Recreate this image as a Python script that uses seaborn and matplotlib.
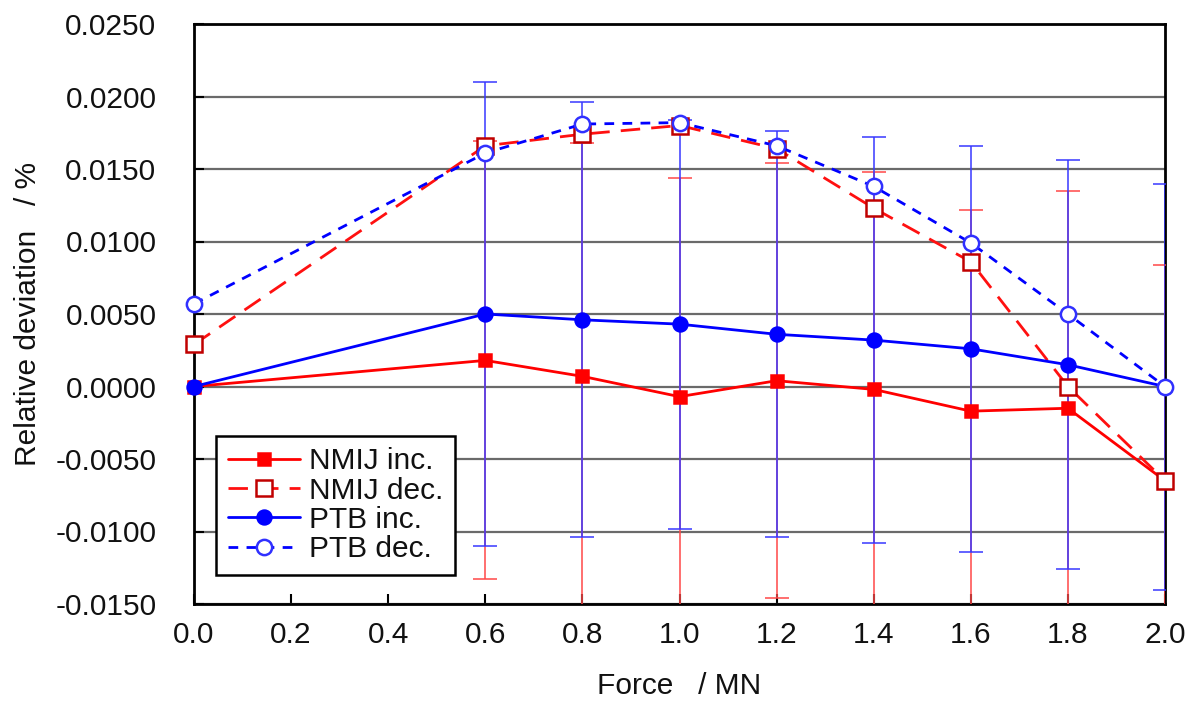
import matplotlib
matplotlib.use("Agg")
import matplotlib.pyplot as plt
import seaborn as sns
import pandas as pd
import numpy as np

force = [0.0, 0.6, 0.8, 1.0, 1.2, 1.4, 1.6, 1.8, 2.0]
nmij_inc = [0.0, 0.0018, 0.0007, -0.0007, 0.0004, -0.0002, -0.0017, -0.0015, -0.0065]
nmij_dec = [0.0029, 0.0166, 0.0174, 0.0180, 0.0164, 0.0123, 0.0086, 0.0000, -0.0065]
ptb_inc = [0.0, 0.0050, 0.0046, 0.0043, 0.0036, 0.0032, 0.0026, 0.0015, 0.0]
ptb_dec = [0.0057, 0.0161, 0.0181, 0.0182, 0.0166, 0.0138, 0.0099, 0.0050, 0.0]

err_x = [0.6, 0.8, 1.0, 1.2, 1.4, 1.6, 1.8, 2.0]
nmij_err = [0.0151, 0.0161, 0.0151, 0.0150, 0.0150, 0.0139, 0.0150, 0.0149]
ptb_err = [0.0160, 0.0150, 0.0141, 0.0140, 0.0140, 0.0140, 0.0141, 0.0140]

series_names = ["NMIJ inc.", "NMIJ dec.", "PTB inc.", "PTB dec."]
x_ticks = [0.0, 0.2, 0.4, 0.6, 0.8, 1.0, 1.2, 1.4, 1.6, 1.8, 2.0]
y_ticks = [-0.015, -0.010, -0.005, 0.0, 0.005, 0.010, 0.015, 0.020, 0.025]

sns.set_theme(style="white")
plt.rcParams['font.family'] = ['Liberation Sans', 'DejaVu Sans']
plt.rcParams['axes.unicode_minus'] = False

fig = plt.figure(figsize=(11.93, 7.01), dpi=100)
ax = fig.add_axes([194/1193, 1-604/701, (1165-194)/1193, (604-24)/701])

df = pd.DataFrame({
    "force": force * 4,
    "dev": nmij_inc + nmij_dec + ptb_inc + ptb_dec,
    "series": sum([[n] * len(force) for n in series_names], []),
})

# error bars (red first, then blue)
ni = dict(zip(force, nmij_inc))
pi = dict(zip(force, ptb_inc))
ax.errorbar(err_x, [ni[x] for x in err_x], yerr=nmij_err, fmt='none',
            ecolor='#FF4848', elinewidth=1.1, capsize=8.5, capthick=1.1, zorder=3)
ax.errorbar(err_x, [pi[x] for x in err_x], yerr=ptb_err, fmt='none',
            ecolor='#3838FF', elinewidth=1.1, capsize=8.5, capthick=1.1, zorder=3.5)

styles = {
    "NMIJ inc.": dict(color='#FF0000', marker='s', mfc='#FF0000', mec='#FF0000', ms=9, dashes=None),
    "NMIJ dec.": dict(color='#FF1010', marker='s', mfc='white', mec='#C00000', ms=12, dashes=(7, 4)),
    "PTB inc.": dict(color='#0000FF', marker='o', mfc='#0000FF', mec='#0000FF', ms=10, dashes=None),
    "PTB dec.": dict(color='#0000FF', marker='o', mfc='white', mec='#3030FF', ms=11, dashes=(3.5, 3)),
}
zorders = {"NMIJ inc.": 5, "NMIJ dec.": 6, "PTB inc.": 7, "PTB dec.": 8}
handles = []
for name in series_names:
    st = styles[name]
    sub = df[df["series"] == name]
    sns.lineplot(data=sub, x="force", y="dev", ax=ax, color=st['color'],
                 linewidth=2.0, marker=st['marker'], markersize=st['ms'],
                 markerfacecolor=st['mfc'], markeredgecolor=st['mec'],
                 markeredgewidth=1.8, legend=False, errorbar=None, sort=False)
    line = ax.lines[-1]
    if st['dashes'] is not None:
        line.set_dashes(st['dashes'])
    line.set_zorder(zorders[name])
    line.set_clip_on(False)
    line.set_label(name)
    handles.append(line)

ax.set_xlim(0, 2.0)
ax.set_ylim(-0.015, 0.025)
ax.set_xticks(x_ticks)
ax.set_xticklabels([f"{v:.1f}" for v in x_ticks])
ax.set_yticks(y_ticks)
ax.set_yticklabels([f"{v:.4f}" for v in y_ticks])
ax.yaxis.grid(True, color='#6a6a6a', linewidth=1.6)
ax.xaxis.grid(False)
ax.set_axisbelow(True)
for s in ax.spines.values():
    s.set_color('black')
    s.set_linewidth(2.0)
    s.set_visible(True)
ax.tick_params(axis='both', direction='in', length=7, width=1.5, color='black',
               labelsize=21.5, labelcolor='#111111')
ax.tick_params(axis='y', left=True, right=False, pad=27)
ax.tick_params(axis='x', bottom=True, top=False, pad=12)

ax.set_xlabel("Force   / MN", fontsize=21.5, color='#111111')
ax.set_ylabel("Relative deviation   / %", fontsize=21.5, color='#111111')
ax.xaxis.set_label_coords(0.5, (604 - 686) / 580)
ax.xaxis.label.set_va('center')
ax.yaxis.set_label_coords((28 - 194) / 971, 0.5)
ax.yaxis.label.set_va('center')

leg = ax.legend(handles=handles, labels=series_names, loc='lower left',
                bbox_to_anchor=(0.0227, 0.05), borderaxespad=0, fontsize=21.5,
                frameon=True, fancybox=False, framealpha=1, edgecolor='black',
                handlelength=2.4, handletextpad=0.3, labelspacing=0.04,
                borderpad=0.4)
leg.get_frame().set_linewidth(1.8)
leg.set_zorder(20)
for t in leg.get_texts():
    t.set_color('#111111')

fig.savefig("out.png", dpi=100, facecolor='white')
